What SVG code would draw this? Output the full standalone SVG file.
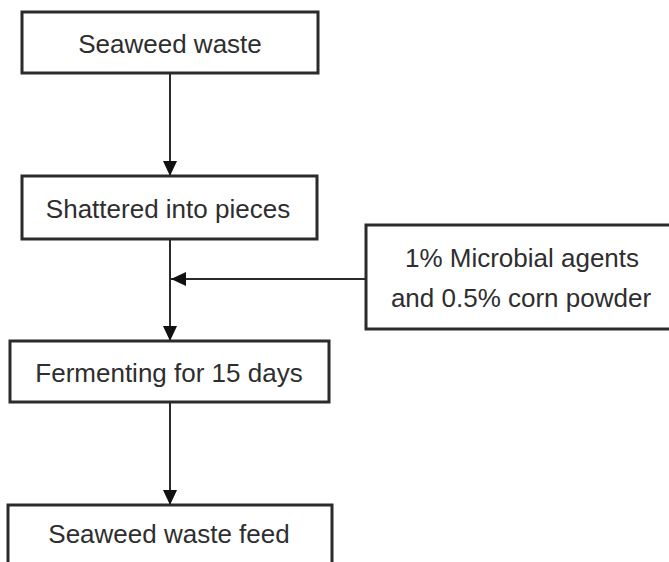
<svg xmlns="http://www.w3.org/2000/svg" width="669" height="562" viewBox="0 0 669 562">
<defs>
<style>
.box{fill:#fff;stroke:#2b2b2b;stroke-width:3}
.t{font-family:"Liberation Sans",Arial,sans-serif;font-size:26px;fill:#2e2e2e;text-anchor:middle}
.c{stroke:#2b2b2b;stroke-width:2;fill:none}
</style>
<marker id="ah" viewBox="0 0 15 14" refX="15" refY="7" markerWidth="15" markerHeight="14" markerUnits="userSpaceOnUse" orient="auto">
<path d="M0,0 L15,7 L0,14 Z" fill="#111"/>
</marker>
</defs>
<rect width="669" height="562" fill="#fff"/>
<g id="connectors">
<line class="c" x1="170" y1="73" x2="170" y2="176" marker-end="url(#ah)"/>
<line class="c" x1="170" y1="239" x2="170" y2="341" marker-end="url(#ah)"/>
<line class="c" x1="366" y1="279" x2="171" y2="279" marker-end="url(#ah)"/>
<line class="c" x1="170" y1="402" x2="170" y2="505" marker-end="url(#ah)"/>
</g>
<g id="n1">
<rect class="box" x="22" y="12" width="296" height="61"/>
<text class="t" x="170" y="53">Seaweed waste</text>
</g>
<g id="n2">
<rect class="box" x="22" y="176" width="295" height="63"/>
<text class="t" x="168" y="218">Shattered into pieces</text>
</g>
<g id="n3">
<rect class="box" x="366" y="225" width="310" height="104"/>
<text class="t" x="522" y="267">1% Microbial agents</text>
<text class="t" x="521" y="307">and 0.5% corn powder</text>
</g>
<g id="n4">
<rect class="box" x="10" y="341" width="319" height="61"/>
<text class="t" x="169" y="382">Fermenting for 15 days</text>
</g>
<g id="n5">
<rect class="box" x="8" y="505" width="324" height="70"/>
<text class="t" x="169" y="543">Seaweed waste feed</text>
</g>
</svg>
